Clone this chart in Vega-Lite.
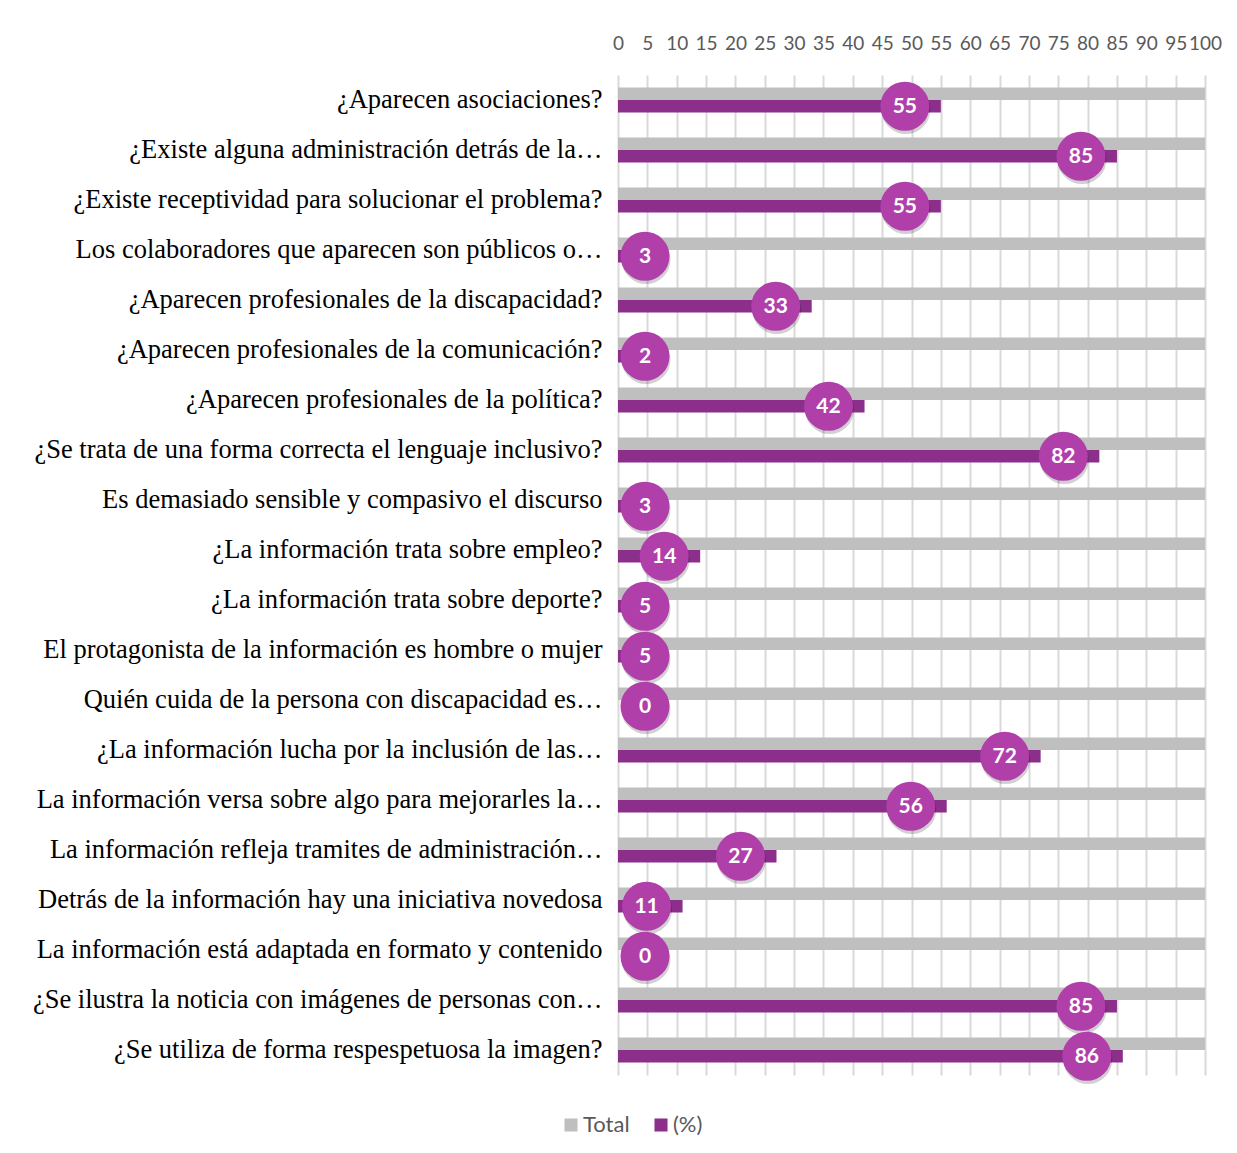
{
  "$schema": "https://vega.github.io/schema/vega-lite/v6.json",
  "width": 587,
  "height": 1000,
  "autosize": {"type": "none"},
  "padding": {"left": 618, "top": 75, "right": 32, "bottom": 78},
  "background": "#ffffff",
  "config": {"view": {"stroke": null}},
  "data": {
    "values": [
      {"pregunta": "¿Aparecen asociaciones?", "serie": "Total", "valor": 100},
      {"pregunta": "¿Aparecen asociaciones?", "serie": "(%)", "valor": 55},
      {"pregunta": "¿Existe alguna administración detrás de la…", "serie": "Total", "valor": 100},
      {"pregunta": "¿Existe alguna administración detrás de la…", "serie": "(%)", "valor": 85},
      {"pregunta": "¿Existe receptividad para solucionar el problema?", "serie": "Total", "valor": 100},
      {"pregunta": "¿Existe receptividad para solucionar el problema?", "serie": "(%)", "valor": 55},
      {"pregunta": "Los colaboradores que aparecen son públicos o…", "serie": "Total", "valor": 100},
      {"pregunta": "Los colaboradores que aparecen son públicos o…", "serie": "(%)", "valor": 3},
      {"pregunta": "¿Aparecen profesionales de la discapacidad?", "serie": "Total", "valor": 100},
      {"pregunta": "¿Aparecen profesionales de la discapacidad?", "serie": "(%)", "valor": 33},
      {"pregunta": "¿Aparecen profesionales de la comunicación?", "serie": "Total", "valor": 100},
      {"pregunta": "¿Aparecen profesionales de la comunicación?", "serie": "(%)", "valor": 2},
      {"pregunta": "¿Aparecen profesionales de la política?", "serie": "Total", "valor": 100},
      {"pregunta": "¿Aparecen profesionales de la política?", "serie": "(%)", "valor": 42},
      {"pregunta": "¿Se trata de una forma correcta el lenguaje inclusivo?", "serie": "Total", "valor": 100},
      {"pregunta": "¿Se trata de una forma correcta el lenguaje inclusivo?", "serie": "(%)", "valor": 82},
      {"pregunta": "Es demasiado sensible y compasivo el discurso", "serie": "Total", "valor": 100},
      {"pregunta": "Es demasiado sensible y compasivo el discurso", "serie": "(%)", "valor": 3},
      {"pregunta": "¿La información trata sobre empleo?", "serie": "Total", "valor": 100},
      {"pregunta": "¿La información trata sobre empleo?", "serie": "(%)", "valor": 14},
      {"pregunta": "¿La información trata sobre deporte?", "serie": "Total", "valor": 100},
      {"pregunta": "¿La información trata sobre deporte?", "serie": "(%)", "valor": 5},
      {"pregunta": "El protagonista de la información es hombre o mujer", "serie": "Total", "valor": 100},
      {"pregunta": "El protagonista de la información es hombre o mujer", "serie": "(%)", "valor": 5},
      {"pregunta": "Quién cuida de la persona con discapacidad es…", "serie": "Total", "valor": 100},
      {"pregunta": "Quién cuida de la persona con discapacidad es…", "serie": "(%)", "valor": 0},
      {"pregunta": "¿La información lucha por la inclusión de las…", "serie": "Total", "valor": 100},
      {"pregunta": "¿La información lucha por la inclusión de las…", "serie": "(%)", "valor": 72},
      {"pregunta": "La información versa sobre algo para mejorarles la…", "serie": "Total", "valor": 100},
      {"pregunta": "La información versa sobre algo para mejorarles la…", "serie": "(%)", "valor": 56},
      {"pregunta": "La información refleja tramites de administración…", "serie": "Total", "valor": 100},
      {"pregunta": "La información refleja tramites de administración…", "serie": "(%)", "valor": 27},
      {"pregunta": "Detrás de la información hay una iniciativa novedosa", "serie": "Total", "valor": 100},
      {"pregunta": "Detrás de la información hay una iniciativa novedosa", "serie": "(%)", "valor": 11},
      {"pregunta": "La información está adaptada en formato y contenido", "serie": "Total", "valor": 100},
      {"pregunta": "La información está adaptada en formato y contenido", "serie": "(%)", "valor": 0},
      {"pregunta": "¿Se ilustra la noticia con imágenes de personas con…", "serie": "Total", "valor": 100},
      {"pregunta": "¿Se ilustra la noticia con imágenes de personas con…", "serie": "(%)", "valor": 85},
      {"pregunta": "¿Se utiliza de forma respespetuosa la imagen?", "serie": "Total", "valor": 100},
      {"pregunta": "¿Se utiliza de forma respespetuosa la imagen?", "serie": "(%)", "valor": 86}
    ]
  },
  "layer": [
    {
      "mark": {"type": "bar"},
      "encoding": {
        "y": {
          "field": "pregunta",
          "type": "nominal",
          "sort": null,
          "scale": {"paddingInner": 0.5, "paddingOuter": 0.25},
          "axis": {
            "title": null,
            "domain": false,
            "ticks": false,
            "labelPadding": 16,
            "labelLimit": 0,
            "labelFont": "Liberation Serif",
            "labelFontSize": 26.5,
            "labelColor": "#000000"
          }
        },
        "yOffset": {
          "field": "serie",
          "type": "nominal",
          "scale": {"domain": ["Total", "(%)"], "paddingInner": 0, "paddingOuter": 0}
        },
        "x": {
          "field": "valor",
          "type": "quantitative",
          "scale": {"domain": [0, 100], "nice": false},
          "axis": {
            "orient": "top",
            "title": null,
            "values": [0, 5, 10, 15, 20, 25, 30, 35, 40, 45, 50, 55, 60, 65, 70, 75, 80, 85, 90, 95, 100],
            "grid": true,
            "gridColor": "#D9D9D9",
            "gridWidth": 2,
            "domain": false,
            "ticks": false,
            "labelPadding": 22,
            "labelFlush": false,
            "labelOverlap": false,
            "labelFont": "Lato",
            "labelFontSize": 19,
            "labelColor": "#595959"
          }
        },
        "color": {
          "field": "serie",
          "type": "nominal",
          "scale": {"domain": ["Total", "(%)"], "range": ["#BFBFBF", "#8B2F8B"]},
          "legend": {
            "title": null,
            "orient": "none",
            "direction": "horizontal",
            "legendX": -58,
            "legendY": 1039,
            "symbolType": "square",
            "symbolSize": 170,
            "symbolStrokeWidth": 0,
            "labelFont": "Lato",
            "labelFontSize": 22,
            "labelColor": "#595959",
            "columnPadding": 20,
            "labelOffset": 1
          }
        }
      }
    },
    {
      "transform": [{"filter": "datum.serie === '(%)'"}],
      "encoding": {
        "y": {"field": "pregunta", "type": "nominal", "sort": null},
        "x": {
          "field": "valor",
          "type": "quantitative",
          "scale": {"domain": [10.73, 100], "range": [27, 551], "clamp": true, "nice": false, "zero": false},
          "axis": null
        }
      },
      "layer": [
        {
          "mark": {"type": "point", "shape": "circle", "filled": true, "size": 2400, "color": "#000000", "opacity": 0.18, "yOffset": 9.5, "xOffset": 1}
        },
        {
          "mark": {"type": "point", "shape": "circle", "filled": true, "size": 2400, "color": "#B13FAA", "opacity": 1, "yOffset": 6.25}
        },
        {
          "mark": {"type": "text", "color": "#ffffff", "font": "Lato", "fontSize": 21, "fontWeight": "bold", "baseline": "middle", "align": "center", "yOffset": 6.75},
          "encoding": {"text": {"field": "valor", "type": "quantitative"}}
        }
      ]
    }
  ],
  "resolve": {"scale": {"x": "independent"}}
}
